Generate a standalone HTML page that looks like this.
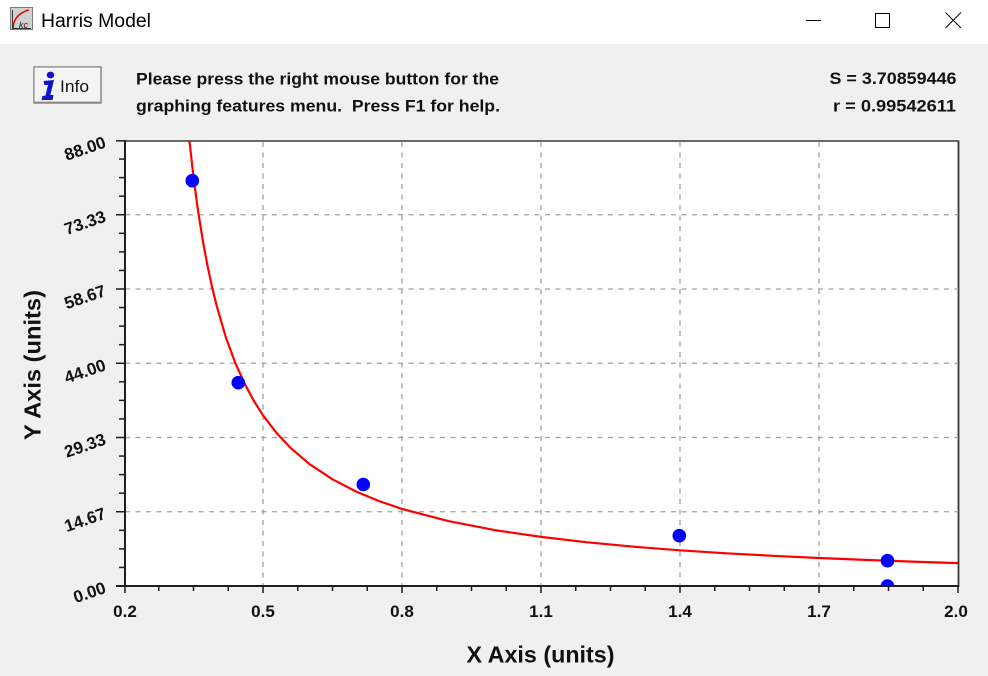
<!DOCTYPE html>
<html>
<head>
<meta charset="utf-8">
<style>
html,body{margin:0;padding:0;background:#f0f0f0;}
body{width:988px;height:676px;overflow:hidden;}
svg{display:block;}
text{font-family:"Liberation Sans",Arial,sans-serif;fill:#111;}
.b{font-weight:bold;}
</style>
</head>
<body>
<svg width="988" height="676" viewBox="0 0 988 676" xmlns="http://www.w3.org/2000/svg">
  <defs>
    <clipPath id="pc"><rect x="125" y="141" width="833" height="444.5"/></clipPath>
  </defs>
  <rect x="0" y="0" width="988" height="676" fill="#f0f0f0"/>
  <rect x="0" y="0" width="988" height="44" fill="#ffffff"/>

  <!-- title bar icon -->
  <rect x="10.5" y="7.5" width="22" height="22" fill="#d0d0d0" stroke="#7a7a7a" stroke-width="1"/>
  <path d="M13 28 Q14 14 29 10" fill="none" stroke="#d01010" stroke-width="1.6"/>
  <path d="M12.5 10 L12.5 28.5 L31 28.5" fill="none" stroke="#333" stroke-width="1"/>
  <text x="19" y="28" font-size="9" font-style="italic" style="fill:#222">kc</text>
  <text x="41" y="27" font-size="19" textLength="110" lengthAdjust="spacingAndGlyphs" style="fill:#000">Harris Model</text>

  <!-- window controls -->
  <line x1="806" y1="20.5" x2="821" y2="20.5" stroke="#000" stroke-width="1"/>
  <rect x="875.5" y="13.5" width="14" height="14" fill="none" stroke="#000" stroke-width="1"/>
  <line x1="945.5" y1="12.5" x2="961" y2="28" stroke="#000" stroke-width="1"/>
  <line x1="961" y1="12.5" x2="945.5" y2="28" stroke="#000" stroke-width="1"/>

  <!-- Info button -->
  <rect x="34" y="67" width="67" height="36" fill="#f4f4f4" stroke="#6e6e6e" stroke-width="1.2"/>
  <line x1="35" y1="68" x2="100" y2="68" stroke="#ffffff" stroke-width="1"/>
  <line x1="35" y1="68" x2="35" y2="102" stroke="#ffffff" stroke-width="1"/>
  <line x1="35" y1="102" x2="100" y2="102" stroke="#a0a0a0" stroke-width="1"/>
  <ellipse cx="50.5" cy="75" rx="3.8" ry="3.4" fill="#1212cc"/>
  <path d="M43.5 81 L54 80 L50.3 95 L53.5 95 L52.5 100 L41.5 100 L42.5 96 L45.5 95.5 L48 85 L44.3 85 Z" fill="#1212cc"/>
  <text x="60" y="92" font-size="17" textLength="29" lengthAdjust="spacingAndGlyphs">Info</text>

  <!-- header text -->
  <text class="b" x="136" y="84.5" font-size="17" textLength="363" lengthAdjust="spacingAndGlyphs">Please press the right mouse button for the</text>
  <text class="b" x="136" y="111.5" font-size="17" textLength="364" lengthAdjust="spacingAndGlyphs" xml:space="preserve">graphing features menu.  Press F1 for help.</text>
  <text class="b" x="829.5" y="84" font-size="17" textLength="127" lengthAdjust="spacingAndGlyphs">S = 3.70859446</text>
  <text class="b" x="833" y="111.5" font-size="17" textLength="123" lengthAdjust="spacingAndGlyphs">r = 0.99542611</text>

  <!-- plot area -->
  <rect x="124" y="140.5" width="834" height="445.5" fill="#ffffff"/>

  <!-- gridlines -->
  <g stroke="#a0a0a0" stroke-width="1.3" stroke-dasharray="5 5.5" fill="none">
    <line x1="263" y1="142" x2="263" y2="585"/>
    <line x1="402" y1="142" x2="402" y2="585"/>
    <line x1="541" y1="142" x2="541" y2="585"/>
    <line x1="680" y1="142" x2="680" y2="585"/>
    <line x1="819" y1="142" x2="819" y2="585"/>
    <line x1="125" y1="214.75" x2="957" y2="214.75"/>
    <line x1="125" y1="289" x2="957" y2="289"/>
    <line x1="125" y1="363.25" x2="957" y2="363.25"/>
    <line x1="125" y1="437.5" x2="957" y2="437.5"/>
    <line x1="125" y1="511.75" x2="957" y2="511.75"/>
  </g>

  <!-- curve and points -->
  <g clip-path="url(#pc)">
    <polyline fill="none" stroke="#ff0000" stroke-width="2.2" stroke-linejoin="round"
      points="186.5,112.6 188.9,136.0 193.5,177.0 198.1,211.3 202.8,240.4 207.4,265.2 212.0,286.8 216.7,305.8 225.9,337.5 235.2,362.7 244.5,383.4 253.7,400.6 263.0,415.3 276.9,433.4 290.8,448.1 309.3,463.9 332.5,479.3 355.7,491.4 378.8,501.0 402.0,508.9 448.3,521.1 494.7,530.1 541.0,536.9 587.3,542.3 633.7,546.7 680.0,550.3 726.3,553.3 772.7,555.8 819.0,558.0 865.3,559.9 911.7,561.6 958.0,563.1"/>
    <g fill="#0000ff">
      <circle cx="192.3" cy="180.7" r="6.8"/>
      <circle cx="238.3" cy="382.7" r="6.8"/>
      <circle cx="363.3" cy="484.5" r="6.8"/>
      <circle cx="679.3" cy="535.7" r="6.8"/>
      <circle cx="887.5" cy="560.7" r="6.8"/>
      <circle cx="887.5" cy="586" r="6.8"/>
    </g>
  </g>

  <!-- borders -->
  <line x1="124" y1="141" x2="959" y2="141" stroke="#3a3a3a" stroke-width="1.6"/>
  <line x1="958.5" y1="140.5" x2="958.5" y2="587" stroke="#3a3a3a" stroke-width="1.8"/>
  <line x1="125" y1="140" x2="125" y2="587" stroke="#1e1e1e" stroke-width="2"/>
  <line x1="116" y1="586" x2="959" y2="586" stroke="#1e1e1e" stroke-width="2"/>

  <!-- y ticks -->
  <g stroke="#1e1e1e" stroke-width="1.5">
    <line x1="116" y1="140.8" x2="124" y2="140.8"/>
    <line x1="116" y1="214.75" x2="124" y2="214.75"/>
    <line x1="116" y1="289" x2="124" y2="289"/>
    <line x1="116" y1="363.25" x2="124" y2="363.25"/>
    <line x1="116" y1="437.5" x2="124" y2="437.5"/>
    <line x1="116" y1="511.75" x2="124" y2="511.75"/>
    <line x1="119" y1="159.06" x2="124" y2="159.06"/>
    <line x1="119" y1="177.63" x2="124" y2="177.63"/>
    <line x1="119" y1="196.19" x2="124" y2="196.19"/>
    <line x1="119" y1="233.31" x2="124" y2="233.31"/>
    <line x1="119" y1="251.88" x2="124" y2="251.88"/>
    <line x1="119" y1="270.44" x2="124" y2="270.44"/>
    <line x1="119" y1="307.56" x2="124" y2="307.56"/>
    <line x1="119" y1="326.13" x2="124" y2="326.13"/>
    <line x1="119" y1="344.69" x2="124" y2="344.69"/>
    <line x1="119" y1="381.81" x2="124" y2="381.81"/>
    <line x1="119" y1="400.38" x2="124" y2="400.38"/>
    <line x1="119" y1="418.94" x2="124" y2="418.94"/>
    <line x1="119" y1="456.06" x2="124" y2="456.06"/>
    <line x1="119" y1="474.63" x2="124" y2="474.63"/>
    <line x1="119" y1="493.19" x2="124" y2="493.19"/>
    <line x1="119" y1="530.31" x2="124" y2="530.31"/>
    <line x1="119" y1="548.88" x2="124" y2="548.88"/>
    <line x1="119" y1="567.44" x2="124" y2="567.44"/>
  </g>

  <!-- x ticks -->
  <g stroke="#1e1e1e" stroke-width="1.5">
    <line x1="125" y1="586" x2="125" y2="593"/>
    <line x1="263" y1="586" x2="263" y2="593"/>
    <line x1="402" y1="586" x2="402" y2="593"/>
    <line x1="541" y1="586" x2="541" y2="593"/>
    <line x1="680" y1="586" x2="680" y2="593"/>
    <line x1="819" y1="586" x2="819" y2="593"/>
    <line x1="958" y1="586" x2="958" y2="593"/>
    <line x1="158.75" y1="586" x2="158.75" y2="591"/>
    <line x1="193.5" y1="586" x2="193.5" y2="591"/>
    <line x1="228.25" y1="586" x2="228.25" y2="591"/>
    <line x1="297.75" y1="586" x2="297.75" y2="591"/>
    <line x1="332.5" y1="586" x2="332.5" y2="591"/>
    <line x1="367.25" y1="586" x2="367.25" y2="591"/>
    <line x1="436.75" y1="586" x2="436.75" y2="591"/>
    <line x1="471.5" y1="586" x2="471.5" y2="591"/>
    <line x1="506.25" y1="586" x2="506.25" y2="591"/>
    <line x1="575.75" y1="586" x2="575.75" y2="591"/>
    <line x1="610.5" y1="586" x2="610.5" y2="591"/>
    <line x1="645.25" y1="586" x2="645.25" y2="591"/>
    <line x1="714.75" y1="586" x2="714.75" y2="591"/>
    <line x1="749.5" y1="586" x2="749.5" y2="591"/>
    <line x1="784.25" y1="586" x2="784.25" y2="591"/>
    <line x1="853.75" y1="586" x2="853.75" y2="591"/>
    <line x1="888.5" y1="586" x2="888.5" y2="591"/>
    <line x1="923.25" y1="586" x2="923.25" y2="591"/>
  </g>

  <!-- y tick labels -->
  <g font-size="17" font-weight="bold" text-anchor="end">
    <text transform="translate(107,147) rotate(-19)">88.00</text>
    <text transform="translate(107,221.25) rotate(-19)">73.33</text>
    <text transform="translate(107,295.5) rotate(-19)">58.67</text>
    <text transform="translate(107,369.75) rotate(-19)">44.00</text>
    <text transform="translate(107,444) rotate(-19)">29.33</text>
    <text transform="translate(107,518.25) rotate(-19)">14.67</text>
    <text transform="translate(107,592.5) rotate(-19)">0.00</text>
  </g>

  <!-- x tick labels -->
  <g font-size="17" font-weight="bold" text-anchor="middle">
    <text x="125" y="617">0.2</text>
    <text x="263" y="617">0.5</text>
    <text x="402" y="617">0.8</text>
    <text x="541" y="617">1.1</text>
    <text x="680" y="617">1.4</text>
    <text x="819" y="617">1.7</text>
    <text x="956" y="617">2.0</text>
  </g>

  <!-- axis titles -->
  <text class="b" x="466.5" y="662.5" font-size="23" textLength="148" lengthAdjust="spacingAndGlyphs">X Axis (units)</text>
  <text class="b" transform="translate(40.5,440) rotate(-90)" x="0" y="0" font-size="23" textLength="150" lengthAdjust="spacingAndGlyphs">Y Axis (units)</text>
</svg>
</body>
</html>
